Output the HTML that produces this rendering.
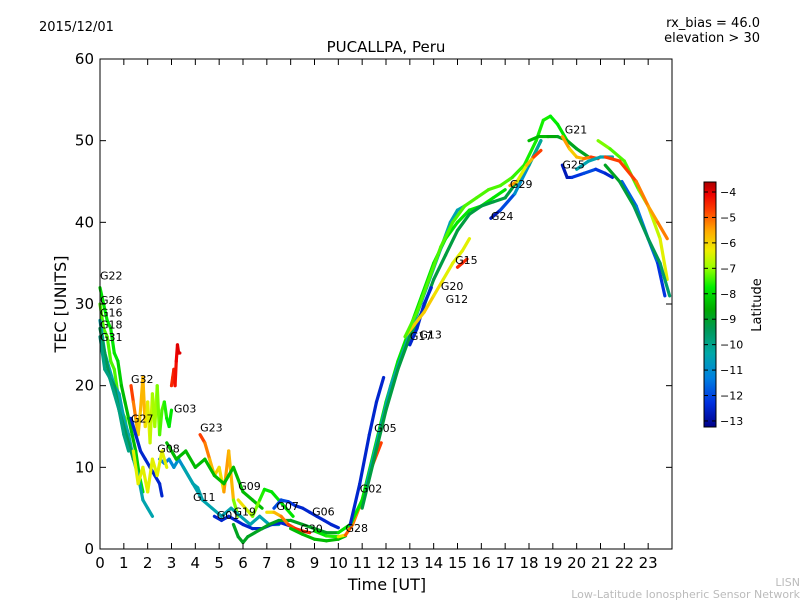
<!DOCTYPE html>
<html><head><meta charset="utf-8"><style>
body{margin:0;background:#fff;}
svg text{font-family:"DejaVu Sans","Liberation Sans",sans-serif;}
</style></head><body>
<svg id="chart" width="800" height="600" xmlns="http://www.w3.org/2000/svg">
<defs>
<linearGradient id="cmap" x1="0" y1="1" x2="0" y2="0">
<stop offset="0" stop-color="#000088"/>
<stop offset="0.1" stop-color="#0030e0"/>
<stop offset="0.2" stop-color="#0080e0"/>
<stop offset="0.3" stop-color="#00a8a8"/>
<stop offset="0.4" stop-color="#009955"/>
<stop offset="0.48" stop-color="#00aa00"/>
<stop offset="0.57" stop-color="#00ee00"/>
<stop offset="0.65" stop-color="#99ff00"/>
<stop offset="0.72" stop-color="#eeee00"/>
<stop offset="0.8" stop-color="#ffaa00"/>
<stop offset="0.88" stop-color="#ff4400"/>
<stop offset="0.95" stop-color="#ee0000"/>
<stop offset="1" stop-color="#aa0000"/>
</linearGradient>
</defs>
<text x="39" y="31" font-size="13">2015/12/01</text>
<text x="760" y="27" font-size="13" text-anchor="end">rx_bias = 46.0</text>
<text x="760" y="42" font-size="13" text-anchor="end">elevation &gt; 30</text>
<text x="386" y="52" font-size="15" text-anchor="middle">PUCALLPA, Peru</text>
<g id="marks"></g>
<rect x="100" y="59" width="572" height="490" fill="none" stroke="#000" stroke-width="1"/>
<g id="axes"></g>
<text x="387" y="590" font-size="16" text-anchor="middle">Time [UT]</text>
<text transform="translate(66,304) rotate(-90)" font-size="16" text-anchor="middle">TEC [UNITS]</text>
<rect x="704" y="182" width="12" height="245" fill="url(#cmap)" stroke="#000" stroke-width="1"/>
<g id="cbticks"></g>
<text transform="translate(761,305) rotate(-90)" font-size="13" text-anchor="middle">Latitude</text>
<text x="800" y="586" font-size="11" fill="#bbb" text-anchor="end">LISN</text>
<text x="800" y="598" font-size="11" fill="#bbb" text-anchor="end">Low-Latitude Ionospheric Sensor Network</text>
</svg>
<script>
const xTicks=[0,1,2,3,4,5,6,7,8,9,10,11,12,13,14,15,16,17,18,19,20,21,22,23];
const yTicks=[0,10,20,30,40,50,60];
const cbTicks=[-4,-5,-6,-7,-8,-9,-10,-11,-12,-13];
const trackTimes=[
[0,0.15,0.3,0.45,0.6,0.75,0.9,1.05,1.2,1.35,1.5,1.65,1.8],
[0,0.15,0.3,0.45,0.6,0.75,0.9,1.05,1.2,1.35,1.5],
[0,0.2,0.4,0.6,0.8,1.0,1.2,1.4,1.6,1.8,2.0,2.2],
[0,0.2,0.4,0.6,0.8,1.0,1.2,1.4],
[0,0.2,0.4,0.6,0.8,1.0,1.2],
[1.3,1.4,1.5,1.6,1.7,1.8,1.9,2.0,2.1,2.2,2.3,2.4,2.5,2.6,2.7,2.8,2.9,3.0],
[3.0,3.05,3.1,3.15,3.2,3.25,3.3,3.35],
[1.3,1.5,1.7,1.9,2.1,2.3,2.5,2.6],
[2.5,2.7,2.9,3.1,3.3,3.5,3.7,3.9,4.1,4.3],
[1.4,1.6,1.8,2.0,2.2,2.4,2.6,2.8],
[4.2,4.4,4.6,4.8,5.0,5.2,5.4,5.6,5.8],
[2.8,3.2,3.6,4.0,4.4,4.8,5.2,5.6,6.0,6.4,6.8],
[3.5,3.9,4.3,4.7,5.1,5.5,5.9,6.3,6.7,7.1,7.5],
[4.8,5.1,5.4,5.7,6.0,6.4,6.8,7.2,7.6,8.0],
[5.6,5.8,6.0,6.2,6.5,6.8,7.1,7.5,8.0,8.5,9.0,9.5,10.0],
[5.8,6.1,6.4,6.7,6.9,7.2,7.5,7.8,8.1],
[7.3,7.6,7.9,8.2,8.5,8.8,9.1,9.4,9.7,10.0],
[7.0,7.3,7.6,7.9,8.2,8.5,8.8],
[8.0,8.5,9.0,9.5,10.0,10.3],
[9.0,9.5,10.0,10.3,10.6,11.0,11.4,11.8],
[10.0,10.5,11.0,11.5,12.0,12.5,13.0,13.5,14.0,14.5,15.0,15.5,16.0,16.5,17.0],
[10.5,10.9,11.3,11.6,11.9],
[11.2,11.7,12.2,12.7,13.2,13.7,14.2,14.7,15.0,15.3],
[11.0,11.5,12.0,12.5,13.0,13.5,14.0,14.5,15.0,15.5,16.0,16.5,17.0,17.5,18.0,18.5],
[13.0,13.3,13.6,13.9],
[12.8,13.2,13.6,14.0,14.4,14.8,15.2,15.5],
[15.0,15.2,15.4],
[12.8,13.3,13.8,14.3,14.8,15.3,15.8,16.3,16.8,17.3,17.8,18.3,18.6,18.9,19.2,19.6,20.0],
[16.4,16.8,17.4,18.0,18.5],
[17.2,17.5,17.9,18.2,18.5],
[18.0,18.4,18.8,19.2,19.6,20.0,20.5],
[19.4,19.7,20.0,20.3,20.6,20.9],
[19.4,19.6,19.8,20.3,20.8,21.2,21.5],
[20.0,20.5,21.0,21.5],
[20.9,21.4,22.0,22.6,23.0,23.5,23.8],
[21.2,21.8,22.5,23.0,23.4,23.8],
[21.9,22.5,23.0,23.4,23.7],
[21.2,21.8,22.4,23.0,23.5,23.9]
];
const trackValues=[
[32,30,28,27,24,23,20,18,16,14,12,9,7],
[30,27,26,23,22,19,17,16,13,12,10],
[28,24,22,20,19,16,14,11,9,6,5,4],
[27,24,21,20,17,15,13,11],
[26,22,21,19,17,14,12],
[20,18,16,14,17,21,15,18,13,19,15,20,14,17,18,16,15,17],
[20,21,22,20,23,25,24,24],
[16,14,12,11,10,9,8,6.5],
[11,10.5,11,10,11,10,9,8,7.5,6],
[12,8,10,7,11,9,12,10],
[14,13,11,9,10,7,12,6,4],
[13,11,12,10,11,9,8,10,7,6,5],
[10,8,6,5,4,5,4,3,4,3,3],
[4,3.5,4,3.5,3,2.5,2.5,3,3.2,2.8],
[3,1.5,0.8,1.5,2,2.5,3,3.5,3.5,3,2.5,2,2],
[6,5,4,6,7.3,7,6,5,4],
[5,6,5.8,5.3,5,4.5,4,3.5,3,2.6],
[4.5,4.5,4,3,2.5,2.2,2],
[2.5,1.8,1.2,1,1.2,1.6],
[2.2,1.6,1.5,1.7,3,6,10,13],
[2,3,6,12,18,23,27,31,35,38,40,41.5,42,43,44],
[3,8,14,18,21],
[8,14,20,24,28,32,36,40,41.5,42],
[5,11,17,22,26,29,33,36,39,41,42,42.5,43,45,47,50],
[25,27,30,32],
[26,27.5,29,31,33,35,36.5,38],
[34.5,35,35.5],
[26,29,33,37,40,42,43,44,44.5,45.5,47,50,52.5,53,52,50,49],
[40.5,41.5,43.5,47,50],
[44.5,45,47,48,48.8],
[50,50.5,50.5,50.5,50,49,48],
[50.5,49,48,47.8,48,47.8],
[47,45.5,45.5,46,46.5,46,45.5],
[46.5,47.5,48,48],
[50,49,47.5,44,42,38,33],
[48,47.5,45,42,40,38],
[45,42,38,35,31],
[47,45,42,38,35,31]
];
const trackLats=[
[-8,-8,-8,-8,-8,-8,-8.5,-8.5,-8.5,-8.5,-8.5,-8,-8],
[-7.5,-7.5,-7.5,-7.5,-7.5,-7.5,-7.5,-7.5,-7.5,-7.5,-7.5],
[-10.5,-10.5,-10.5,-10.5,-10.5,-10.5,-10.5,-10.5,-10.5,-10.5,-10.5,-10.5],
[-9.5,-9.5,-9.5,-9.5,-9.5,-9.5,-9.5,-9.5],
[-10,-10,-10,-10,-10,-10,-10],
[-4.5,-5,-5.5,-6,-6,-5.5,-6,-6.5,-6.5,-7,-7,-7,-7.5,-7.5,-7.5,-8,-8,-8],
[-4.5,-4.5,-4.5,-4.3,-4.2,-4,-4,-4],
[-12.5,-12.5,-12.5,-12.5,-12.5,-12.5,-12.5,-12.5],
[-11.5,-11.5,-11.5,-11,-11,-11,-11,-10.5,-10.5,-10.5],
[-6.5,-6.5,-6.5,-6.5,-6.5,-6.5,-6.5,-6.5],
[-4.5,-5,-5.5,-6,-6,-6.5,-4.5,-7,-7.5],
[-8.5,-8.5,-8.5,-8.5,-8.5,-8.5,-8.5,-8.5,-8.5,-8.5,-8.5],
[-10.5,-10.5,-10.5,-10.5,-10.5,-10.5,-10.5,-10.5,-10.5,-10.5,-10.5],
[-12.5,-12.5,-12.5,-12.5,-12.5,-12.5,-12.5,-12.5,-12.5,-12.5],
[-9,-9,-9,-9,-9,-9,-9,-9,-9,-9,-9,-9,-9],
[-6,-6.5,-7,-7.5,-8,-8,-8,-8,-8],
[-12,-12,-12,-12.5,-12.5,-12.5,-12.5,-12.5,-12.5,-12.5],
[-6.5,-6,-5.5,-5,-4.5,-4.5,-4.5],
[-8.5,-8.5,-8.5,-8.5,-8.5,-8.5],
[-8,-8,-7.5,-5,-5,-5.5,-5,-4.5],
[-8,-8,-8,-8,-8,-8,-8,-8,-8,-8,-8,-8,-8,-8,-8],
[-12.5,-12.5,-12.5,-12.5,-12.5],
[-10.5,-10.5,-10.5,-10.5,-10.5,-10.5,-10.5,-10.5,-10.5,-10.5],
[-9.3,-9.3,-9.3,-9.3,-9.3,-9.3,-9.3,-9.3,-9.3,-9.3,-9.3,-9.3,-9.3,-9.3,-9.3,-9.3],
[-12.5,-12.5,-12.5,-12.5],
[-6,-6,-6,-6,-6.5,-6.5,-6.5,-6.5],
[-4.5,-4.5,-4.5],
[-7.5,-7.5,-7.5,-7.5,-7.5,-7.5,-7.5,-7.5,-7.5,-7.5,-7.8,-7.8,-7.8,-7.8,-8,-8,-8],
[-13,-12.5,-11.5,-10.5,-10],
[-4.5,-6.5,-6.5,-5,-4.5],
[-8.5,-8.5,-8.5,-9,-9,-9,-9],
[-5,-6,-6,-5.5,-5,-4.5],
[-12.5,-13,-12.5,-12,-12,-12.5,-12.5],
[-10.5,-10.5,-10.5,-10.5],
[-7,-7.5,-7.5,-7.5,-7,-6.5,-6.5],
[-5,-4.5,-5,-5.5,-5.5,-5],
[-12,-11.5,-11.5,-12,-12.5],
[-9,-9,-9.5,-9.5,-9.5,-10]
];
const labelNames=["G22","G26","G16","G18","G31","G32","G03","G27","G08","G23","G11","G01","G19","G09","G07","G30","G06","G28","G02","G05","G17","G13","G20","G12","G15","G24","G29","G21","G25"];
const labelT=[0,0,0,0,0,1.3,3.1,1.3,2.4,4.2,3.9,4.9,5.6,5.8,7.4,8.4,8.9,10.3,10.9,11.5,13.0,13.4,14.3,14.5,14.9,16.4,17.2,19.5,19.4];
const labelV=[33,30,28.5,27,25.5,20.3,16.7,15.5,11.8,14.4,5.9,3.7,4.1,7.2,4.8,2,4.1,2.1,6.9,14.3,25.6,25.8,31.7,30.1,34.9,40.3,44.2,50.9,46.6];

const X=t=>100+t*572/24, Y=v=>549-v*490/60;
const CB=l=>192+(-4-l)*25.44;
const stops=[[-13.3,[0,0,136]],[-12.3,[0,48,224]],[-11.4,[0,128,224]],[-10.4,[0,168,168]],[-9.5,[0,153,85]],[-8.7,[0,170,0]],[-7.9,[0,238,0]],[-7.1,[153,255,0]],[-6.4,[238,238,0]],[-5.6,[255,170,0]],[-4.8,[255,68,0]],[-4.1,[238,0,0]],[-3.6,[170,0,0]]];
function col(l){
 if(l<=stops[0][0])return 'rgb('+stops[0][1]+')';
 for(let i=1;i<stops.length;i++){if(l<=stops[i][0]){const a=stops[i-1],b=stops[i],f=(l-a[0])/(b[0]-a[0]);return 'rgb('+a[1].map((c,k)=>Math.round(c+(b[1][k]-c)*f)).join(',')+')';}}
 return 'rgb(170,0,0)';
}
const NS='http://www.w3.org/2000/svg';
const marks=document.getElementById('marks');
for(let i=0;i<trackTimes.length;i++){
 const g=document.createElementNS(NS,'g');
 
 
 for(let j=0;j<trackTimes[i].length-1;j++){
  const ln=document.createElementNS(NS,'line');
  ln.setAttribute('x1',X(trackTimes[i][j]));ln.setAttribute('y1',Y(trackValues[i][j]));
  ln.setAttribute('x2',X(trackTimes[i][j+1]));ln.setAttribute('y2',Y(trackValues[i][j+1]));
  ln.setAttribute('stroke',col((trackLats[i][j]+trackLats[i][j+1])/2));
  ln.setAttribute('stroke-width','3.2');ln.setAttribute('stroke-linecap','round');
  
  
  g.appendChild(ln);
 }
 marks.appendChild(g);
}
for(let k=0;k<labelNames.length;k++){
 const t=document.createElementNS(NS,'text');
 t.setAttribute('x',X(labelT[k]));t.setAttribute('y',Y(labelV[k]));
 t.setAttribute('font-size','11');t.textContent=labelNames[k];
 
 
 marks.appendChild(t);
}
const axes=document.getElementById('axes');
function add(tag,attrs,txt,name){const e=document.createElementNS(NS,tag);for(const k in attrs)e.setAttribute(k,attrs[k]);if(txt!==undefined)e.textContent=txt;return e;}
xTicks.forEach(t=>{
 axes.appendChild(add('line',{x1:X(t),x2:X(t),y1:549,y2:543,stroke:'#000'},undefined,'x-tick'));
 axes.appendChild(add('line',{x1:X(t),x2:X(t),y1:59,y2:65,stroke:'#000'},undefined,'x-tick-top'));
 axes.appendChild(add('text',{x:X(t),y:568,'font-size':'15','text-anchor':'middle'},String(t),'x-tick-label'));
});
yTicks.forEach(v=>{
 axes.appendChild(add('line',{x1:100,x2:106,y1:Y(v),y2:Y(v),stroke:'#000'},undefined,'y-tick'));
 axes.appendChild(add('line',{x1:672,x2:666,y1:Y(v),y2:Y(v),stroke:'#000'},undefined,'y-tick-right'));
 axes.appendChild(add('text',{x:94,y:Y(v)+5,'font-size':'15','text-anchor':'end'},String(v),'y-tick-label'));
});
const cbt=document.getElementById('cbticks');
cbTicks.forEach(l=>{
 cbt.appendChild(add('line',{x1:704,x2:708,y1:CB(l),y2:CB(l),stroke:'#000'},undefined,'colorbar-tick'));
 cbt.appendChild(add('line',{x1:716,x2:712,y1:CB(l),y2:CB(l),stroke:'#000'},undefined,'colorbar-tick'));
 cbt.appendChild(add('text',{x:720,y:CB(l)+4,'font-size':'11'},'\u2212'+Math.abs(l),'colorbar-tick-label'));
});
</script>
</body></html>
